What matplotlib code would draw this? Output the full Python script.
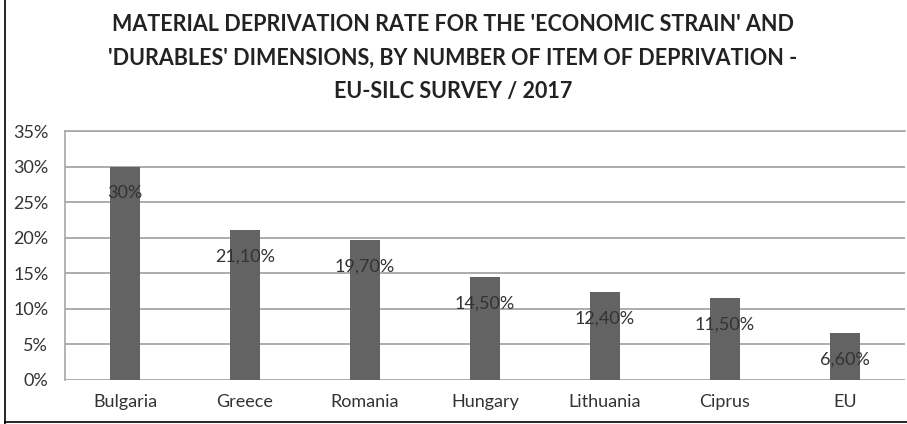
import matplotlib
matplotlib.use("Agg")
import matplotlib.pyplot as plt
from matplotlib.lines import Line2D

categories = ["Bulgaria", "Greece", "Romania", "Hungary", "Lithuania", "Ciprus", "EU"]
values = [30.0, 21.1, 19.7, 14.5, 12.4, 11.5, 6.6]
labels = ["30%", "21,10%", "19,70%", "14,50%", "12,40%", "11,50%", "6,60%"]
yticks = [0, 5, 10, 15, 20, 25, 30, 35]
title = ("MATERIAL DEPRIVATION RATE FOR THE 'ECONOMIC STRAIN' AND\n"
         "'DURABLES' DIMENSIONS, BY NUMBER OF ITEM OF DEPRIVATION -\n"
         "EU-SILC SURVEY / 2017")

plt.rcParams['font.family'] = ['Lato', 'DejaVu Sans']
W, H = 907, 424
fig = plt.figure(figsize=(W/100, H/100), dpi=100)
ax = fig.add_axes([65/W, 1-380/H, 840/W, (380-131)/H])

x = list(range(len(categories)))
ax.bar(x, values, width=0.25, color="#636363", zorder=3)
ax.set_xlim(-0.5, len(categories)-0.5)
ax.set_ylim(0, 35)
ax.set_yticks(yticks)
ax.set_yticklabels([f"{t}%" for t in yticks])
ax.set_xticks(x)
ax.set_xticklabels(categories)
ax.tick_params(length=0, labelsize=13, colors="#333333", pad=10)
ax.tick_params(axis='y', pad=12)
ax.grid(axis='y', color="#a6a6a6", linewidth=1.3, zorder=0)
for s in ["right", "bottom"]:
    ax.spines[s].set_visible(False)
for s in ["left", "top"]:
    ax.spines[s].set_color("#a6a6a6")
    ax.spines[s].set_linewidth(1.2)

for xi, v, lab in zip(x, values, labels):
    ax.annotate(lab, (xi, v), xytext=(0, -19), textcoords="offset points",
                ha="center", va="center", fontsize=13, color="#333333", zorder=4)

fig.text(453/W, 1-58/H, title, ha="center", va="center", fontsize=15.5,
         fontweight="bold", color="#222222", linespacing=1.72)

fig.add_artist(Line2D([5/W, 5/W], [0, 1], transform=fig.transFigure, color="black", lw=1.2))
fig.add_artist(Line2D([5/W, 1], [1-422/H, 1-422/H], transform=fig.transFigure, color="black", lw=1.2))

fig.savefig("out.png", dpi=100)
